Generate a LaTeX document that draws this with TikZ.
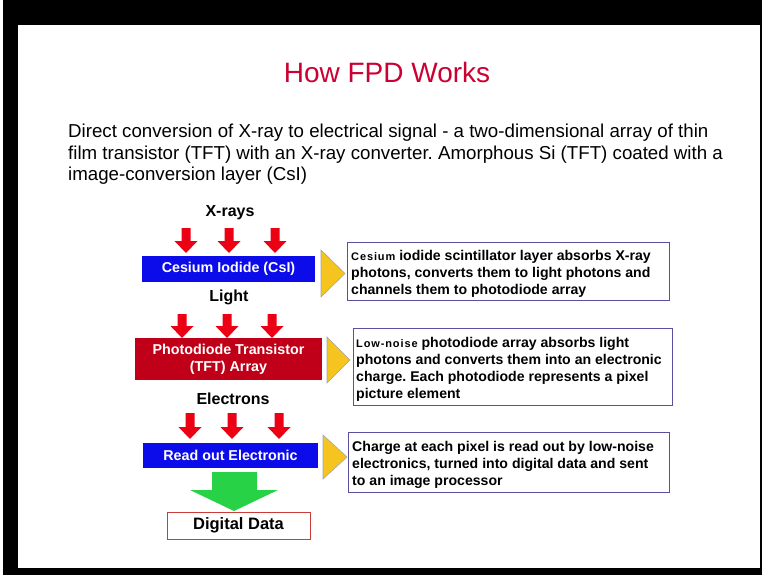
\documentclass[tikz,border=0pt]{standalone}
\usepackage{fontspec}
\setmainfont{Liberation Sans}
\frenchspacing
\definecolor{titlered}{RGB}{204,0,51}
\definecolor{csiblue}{RGB}{12,12,235}
\definecolor{tftred}{RGB}{192,0,24}
\definecolor{arrowred}{RGB}{235,0,20}
\definecolor{wedgeyellow}{RGB}{246,196,30}
\definecolor{outgreen}{RGB}{40,210,70}
\definecolor{infoborder}{RGB}{90,80,160}
\definecolor{databorder}{RGB}{200,60,60}
\newcommand{\smallword}[1]{{\fontsize{11}{17}\selectfont\addfontfeature{LetterSpace=8}#1}}
\begin{document}
\begin{tikzpicture}[x=1pt,y=-1pt,
  titletext/.style={text=titlered,font=\fontsize{28}{32}\selectfont},
  bodytext/.style={align=left,font=\fontsize{18.7}{21.5}\selectfont,inner sep=0pt},
  layerlabel/.style={font=\bfseries\fontsize{16}{18}\selectfont},
  layerbox/.style={text=white,font=\bfseries\fontsize{14.3}{17}\selectfont,align=center,inner sep=0pt},
  infobox/.style={draw=infoborder,line width=0.8pt,fill=white,anchor=north west,inner sep=0pt},
  infotext/.style={anchor=west,align=left,inner sep=0pt,font=\bfseries\fontsize{14.1}{17}\selectfont},
  databox/.style={draw=databorder,line width=0.8pt,fill=white,
    font=\bfseries\fontsize{16.5}{18}\selectfont,inner sep=0pt},
  downarrow/.style={fill=arrowred},
  wedge/.style={fill=wedgeyellow,draw=gray!70,line width=0.6pt},
]
% frame
\fill[white] (0,0) rectangle (762,575);
\fill[black] (3,0) rectangle (762,575);
\fill[white] (18,25) rectangle (760,568);
\useasboundingbox (0,0) rectangle (762,575);

% heading and intro
\node[titletext] (title) at (387,72) {How FPD Works};
\node[bodytext,anchor=north west] (intro) at (68,124)
  {Direct conversion of X-ray to electrical signal - a two-dimensional array of thin\\
   film transistor (TFT) with an X-ray converter. Amorphous Si (TFT) coated with a\\
   image-conversion layer (CsI)};

% layer labels
\node[layerlabel] (xrays) at (230,213) {X-rays};
\node[layerlabel] (light) at (229,297) {Light};
\node[layerlabel] (electrons) at (233,399) {Electrons};

% layer boxes
\node[layerbox,fill=csiblue,minimum width=173pt,minimum height=26pt] (csi) at (228.5,269) {Cesium Iodide (CsI)};
\node[layerbox,fill=tftred,minimum width=187pt,minimum height=42pt] (tft) at (228.5,359) {Photodiode Transistor\\(TFT) Array};
\node[layerbox,fill=csiblue,minimum width=175pt,minimum height=25pt] (readout) at (230.5,455.5) {Read out Electronic};
\node[databox,minimum width=143pt,minimum height=27pt] (digital) at (238.5,525.5) {Digital Data};

% red down arrows
\foreach \cx/\ya/\yb in {186/228/253, 229/228/253, 275/228/253,
                         182/314/338, 227/314/338, 272/314/338,
                         190/413/439, 232/413/439, 279/413/439}{
  \fill[downarrow] (\cx-4.5,\ya) -- (\cx+4.5,\ya) -- (\cx+4.5,\yb-12) -- (\cx+11.5,\yb-12)
     -- (\cx,\yb) -- (\cx-11.5,\yb-12) -- (\cx-4.5,\yb-12) -- cycle;
}

% yellow pointers
\draw[wedge] (321,250) -- (321,297) -- (345,273.5) -- cycle;
\draw[wedge] (327,337) -- (327,383) -- (350,360) -- cycle;
\draw[wedge] (323,435) -- (323,479) -- (347,457) -- cycle;

% output arrow
\fill[outgreen] (212,472) -- (257,472) -- (257,490) -- (278,490) -- (234,511)
  -- (190,490) -- (212,490) -- cycle;

% explanation boxes
\node[infobox,minimum width=322pt,minimum height=58pt] (info1) at (347,242) {};
\node[infotext] (info1text) at ([xshift=4pt,yshift=-2pt]info1.west)
  {\smallword{Cesium} iodide scintillator layer absorbs X-ray\\
   photons, converts them to light photons and\\
   channels them to photodiode array};
\node[infobox,minimum width=319pt,minimum height=77pt] (info2) at (353,328) {};
\node[infotext] (info2text) at ([xshift=3pt,yshift=-2pt]info2.west)
  {\smallword{Low-noise} photodiode array absorbs light\\
   photons and converts them into an electronic\\
   charge. Each photodiode represents a pixel\\
   picture element};
\node[infobox,minimum width=321pt,minimum height=60pt] (info3) at (348,432) {};
\node[infotext] (info3text) at ([xshift=4pt,yshift=-2pt]info3.west)
  {Charge at each pixel is read out by low-noise\\
   electronics, turned into digital data and sent\\
   to an image processor};
\end{tikzpicture}
\end{document}
